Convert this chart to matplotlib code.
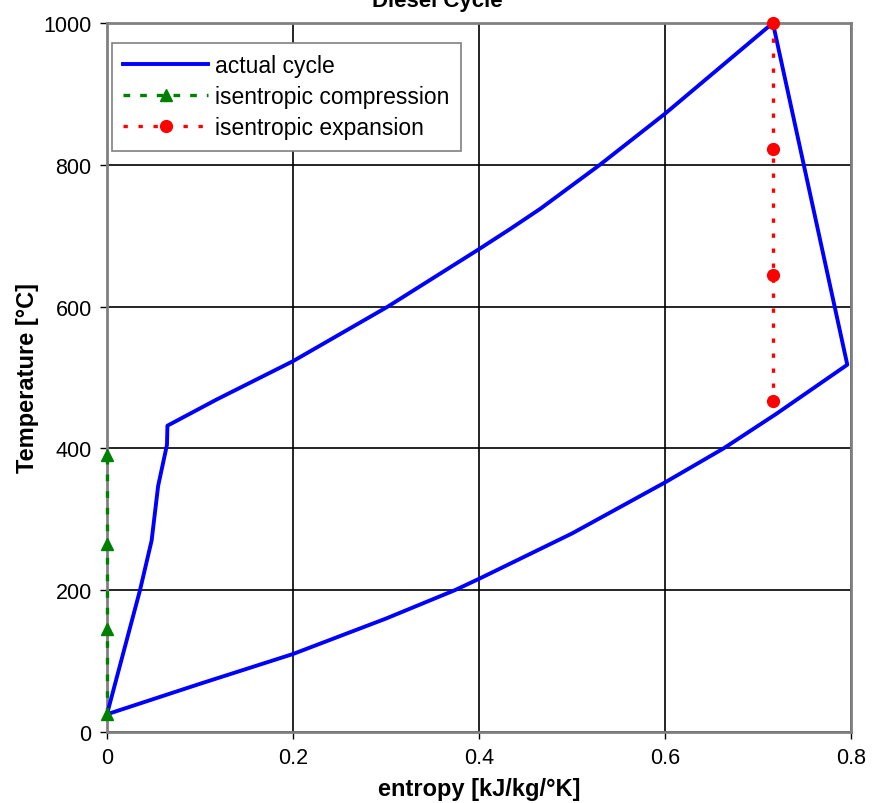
import matplotlib
matplotlib.use("Agg")
import matplotlib.pyplot as plt
from matplotlib.ticker import FuncFormatter

plt.rcParams["font.family"] = ["Liberation Sans", "DejaVu Sans"]

# actual cycle: compression -> heat addition -> expansion -> heat rejection
cycle_s = [0.0, 0.0355, 0.048, 0.055, 0.0645, 0.065,
           0.118, 0.2, 0.302, 0.4, 0.433, 0.466, 0.53, 0.6, 0.716,
           0.796,
           0.72, 0.663, 0.6, 0.5, 0.4, 0.374, 0.3, 0.2, 0.1, 0.0]
cycle_T = [25, 200, 270, 347, 405, 432,
           469, 523, 600, 681, 709, 738, 800, 872, 1000,
           518,
           449, 400, 352, 280, 216, 200, 160, 110, 68, 25]

# isentropic compression (s = 0)
comp_s = [0.0, 0.0, 0.0, 0.0]
comp_T = [25, 145, 265, 390]

# isentropic expansion
exp_s = [0.716, 0.716, 0.716, 0.716]
exp_T = [1000, 822, 645, 467]

x_ticks = [0, 0.2, 0.4, 0.6, 0.8]
y_ticks = [0, 200, 400, 600, 800, 1000]

fig = plt.figure(figsize=(8.74, 8.04), dpi=100)
ax = fig.add_axes([0.1224, 0.0883, 0.8513, 0.8819])

ax.plot(cycle_s, cycle_T, color="#0000ff", lw=2.8, label="actual cycle",
        zorder=4, clip_on=False)
ax.plot(comp_s, comp_T, color="#008000", lw=2.4, ls=(0, (2.0, 3.0)),
        marker="^", ms=9, label="isentropic compression", zorder=5,
        clip_on=False)
ax.plot(exp_s, exp_T, color="#ff0000", lw=2.4, ls=(0, (1.3, 3.2)),
        marker="o", ms=8.5, label="isentropic expansion", zorder=5,
        clip_on=False)

ax.set_xlim(0, 0.8)
ax.set_ylim(0, 1000)
ax.set_xticks(x_ticks)
ax.set_yticks(y_ticks)
ax.xaxis.set_major_formatter(FuncFormatter(lambda v, p: "0" if v == 0 else f"{v:g}"))
ax.grid(True, color="black", lw=1.2)
ax.set_axisbelow(True)
ax.tick_params(direction="out", length=5, width=1, color="black",
               labelsize=15.5, pad=6)

for sp in ax.spines.values():
    sp.set_color("#808080")
    sp.set_linewidth(2.0)

ax.set_xlabel("entropy [kJ/kg/°K]", fontsize=17, fontweight="bold", labelpad=6)
ax.set_ylabel("Temperature [°C]", fontsize=17, fontweight="bold", labelpad=3)

fig.text(0.5, 0.9915, "Diesel Cycle", ha="center", va="baseline",
         fontsize=16, fontweight="bold")

leg = ax.legend(loc="upper left", bbox_to_anchor=(0.0067, 0.972),
                borderaxespad=0, fontsize=16.5, handlelength=3.7,
                handletextpad=0.3, borderpad=0.5, labelspacing=0.35,
                fancybox=False, framealpha=1, numpoints=1)
leg.get_frame().set_edgecolor("#808080")
leg.get_frame().set_linewidth(1.2)

fig.savefig("out.png", dpi=100)
